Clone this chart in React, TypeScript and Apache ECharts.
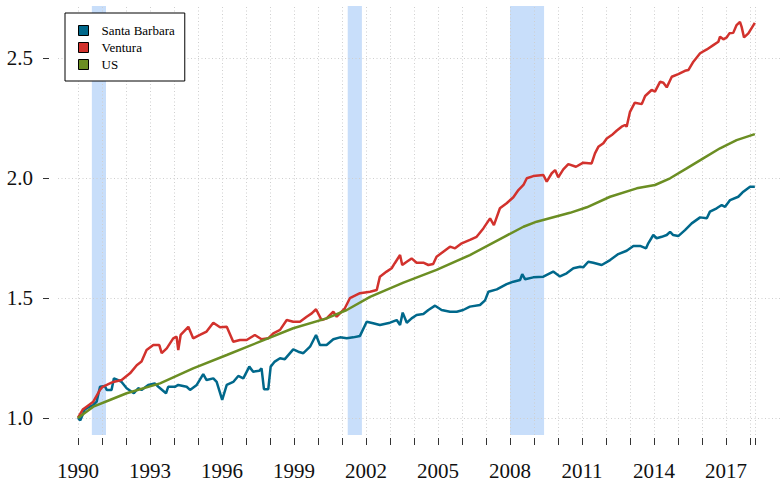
import React, { useEffect, useRef } from "react";
import * as echarts from "echarts";

const seriesNames = ["Santa Barbara", "Ventura", "US"];
const seriesColors = ["#00688B", "#D2322D", "#6B8E23"];

const santaBarbara: [number, number][] = [
  [1990.0, 1.0], [1990.1, 0.99], [1990.29, 1.036], [1990.45, 1.045], [1990.64, 1.054], [1990.78, 1.068],
  [1990.92, 1.13], [1991.12, 1.133], [1991.2, 1.117], [1991.4, 1.117], [1991.5, 1.165], [1991.68, 1.158],
  [1991.82, 1.15], [1992.03, 1.124], [1992.33, 1.103], [1992.51, 1.124], [1992.65, 1.117], [1992.93, 1.1375],
  [1993.2, 1.144], [1993.35, 1.13], [1993.67, 1.103], [1993.76, 1.13], [1994.04, 1.13], [1994.18, 1.1375],
  [1994.53, 1.13], [1994.67, 1.117], [1994.95, 1.1375], [1995.22, 1.183], [1995.36, 1.158], [1995.64, 1.165],
  [1995.78, 1.15], [1996.01, 1.075], [1996.2, 1.1375], [1996.47, 1.15], [1996.68, 1.175], [1996.89, 1.165],
  [1997.14, 1.214], [1997.3, 1.193], [1997.56, 1.197], [1997.65, 1.207], [1997.75, 1.12], [1997.93, 1.12],
  [1998.03, 1.214], [1998.2, 1.235], [1998.42, 1.249], [1998.62, 1.245], [1998.97, 1.286], [1999.18, 1.276],
  [1999.39, 1.27], [1999.67, 1.297], [1999.92, 1.346], [2000.08, 1.304], [2000.36, 1.304], [2000.64, 1.328],
  [2000.92, 1.336], [2001.2, 1.332], [2001.47, 1.336], [2001.75, 1.342], [2002.03, 1.401], [2002.3, 1.395],
  [2002.58, 1.3875], [2003.0, 1.397], [2003.28, 1.408], [2003.42, 1.3875], [2003.53, 1.439], [2003.7, 1.397],
  [2003.9, 1.415], [2004.11, 1.429], [2004.39, 1.433], [2004.6, 1.45], [2004.88, 1.468], [2005.15, 1.45],
  [2005.5, 1.443], [2005.78, 1.443], [2006.05, 1.45], [2006.33, 1.464], [2006.75, 1.471], [2006.96, 1.49],
  [2007.1, 1.526], [2007.45, 1.536], [2007.86, 1.558], [2008.14, 1.568], [2008.42, 1.575], [2008.51, 1.599],
  [2008.63, 1.578], [2008.97, 1.586], [2009.39, 1.589], [2009.8, 1.61], [2010.08, 1.59], [2010.36, 1.603],
  [2010.64, 1.624], [2010.92, 1.63], [2011.05, 1.628], [2011.26, 1.651], [2011.47, 1.647], [2011.82, 1.6375],
  [2012.17, 1.658], [2012.51, 1.683], [2012.86, 1.697], [2013.14, 1.717], [2013.42, 1.717], [2013.67, 1.707],
  [2013.76, 1.728], [2013.97, 1.7625], [2014.11, 1.749], [2014.32, 1.755], [2014.53, 1.7625], [2014.67, 1.776],
  [2014.8, 1.7625], [2015.01, 1.758], [2015.29, 1.783], [2015.57, 1.811], [2015.92, 1.836], [2016.2, 1.832],
  [2016.33, 1.86], [2016.61, 1.874], [2016.82, 1.8875], [2016.96, 1.88], [2017.17, 1.908], [2017.51, 1.922],
  [2017.72, 1.943], [2018.0, 1.964], [2018.2, 1.964],
];

const ventura: [number, number][] = [
  [1990.0, 1.0], [1990.2, 1.035], [1990.36, 1.047], [1990.64, 1.068], [1990.92, 1.117], [1991.03, 1.13],
  [1991.2, 1.1375], [1991.47, 1.15], [1991.82, 1.158], [1992.17, 1.186], [1992.45, 1.22], [1992.65, 1.235],
  [1992.86, 1.283], [1993.14, 1.304], [1993.39, 1.304], [1993.49, 1.27], [1993.7, 1.29], [1993.97, 1.332],
  [1994.11, 1.339], [1994.18, 1.283], [1994.28, 1.346], [1994.6, 1.38], [1994.8, 1.332], [1995.08, 1.346],
  [1995.36, 1.36], [1995.64, 1.397], [1995.92, 1.378], [1996.2, 1.38], [1996.47, 1.318], [1996.75, 1.325],
  [1997.03, 1.325], [1997.37, 1.346], [1997.65, 1.328], [1997.93, 1.332], [1998.14, 1.353], [1998.42, 1.367],
  [1998.7, 1.408], [1998.97, 1.401], [1999.25, 1.401], [1999.53, 1.422], [1999.74, 1.436], [1999.92, 1.453],
  [2000.15, 1.408], [2000.36, 1.415], [2000.64, 1.443], [2000.78, 1.422], [2001.12, 1.457], [2001.33, 1.499],
  [2001.75, 1.52], [2002.17, 1.526], [2002.45, 1.533], [2002.58, 1.589], [2002.86, 1.61], [2003.07, 1.624],
  [2003.2, 1.645], [2003.42, 1.679], [2003.51, 1.6375], [2003.7, 1.651], [2003.9, 1.665], [2004.11, 1.647],
  [2004.39, 1.647], [2004.6, 1.6375], [2004.8, 1.642], [2004.94, 1.672], [2005.22, 1.693], [2005.5, 1.714],
  [2005.71, 1.707], [2005.99, 1.728], [2006.33, 1.742], [2006.61, 1.755], [2006.89, 1.79], [2007.17, 1.832],
  [2007.33, 1.804], [2007.58, 1.874], [2007.86, 1.895], [2008.14, 1.92], [2008.35, 1.95], [2008.56, 1.971],
  [2008.7, 1.999], [2008.97, 2.008], [2009.39, 2.0125], [2009.53, 1.985], [2009.74, 2.02], [2009.88, 2.033],
  [2010.01, 2.003], [2010.22, 2.036], [2010.43, 2.058], [2010.75, 2.047], [2011.05, 2.064], [2011.4, 2.061],
  [2011.54, 2.103], [2011.68, 2.13], [2011.89, 2.145], [2012.03, 2.165], [2012.24, 2.179], [2012.44, 2.197],
  [2012.65, 2.214], [2012.79, 2.221], [2012.86, 2.214], [2013.0, 2.276], [2013.2, 2.314], [2013.49, 2.308],
  [2013.63, 2.342], [2013.9, 2.367], [2014.04, 2.36], [2014.25, 2.401], [2014.39, 2.397], [2014.53, 2.378],
  [2014.74, 2.422], [2015.01, 2.433], [2015.29, 2.447], [2015.43, 2.45], [2015.64, 2.485], [2015.92, 2.52],
  [2016.2, 2.536], [2016.47, 2.554], [2016.68, 2.568], [2016.75, 2.589], [2016.89, 2.578], [2017.03, 2.586],
  [2017.14, 2.603], [2017.3, 2.605], [2017.44, 2.6375], [2017.58, 2.651], [2017.65, 2.63], [2017.75, 2.586],
  [2017.93, 2.603], [2018.2, 2.647],
];

const us: [number, number][] = [
  [1990.0, 1.0], [1990.64, 1.047], [1991.33, 1.075], [1992.03, 1.103], [1993.42, 1.144], [1994.8, 1.207],
  [1996.2, 1.2625], [1997.58, 1.318], [1998.97, 1.374], [2000.36, 1.415], [2001.2, 1.45], [2002.17, 1.505],
  [2003.56, 1.564], [2004.94, 1.617], [2006.33, 1.679], [2007.72, 1.753], [2008.56, 1.797], [2009.11, 1.818],
  [2010.5, 1.855], [2011.2, 1.878], [2012.17, 1.922], [2013.28, 1.957], [2014.04, 1.971], [2014.67, 1.999],
  [2015.36, 2.04], [2016.05, 2.082], [2016.75, 2.124], [2017.44, 2.158], [2018.2, 2.183],
];

const recessions: [number, number][] = [
  [1990.58, 1991.17],
  [2001.24, 2001.83],
  [2008.0, 2009.42],
];

const xTickValues = [
  1990, 1991, 1992, 1993, 1994, 1995, 1996, 1997, 1998, 1999, 2000, 2001, 2002, 2003, 2004,
  2005, 2006, 2007, 2008, 2009, 2010, 2011, 2012, 2013, 2014, 2015, 2016, 2017, 2018, 2018.2,
];
const xLabelValues = [1990, 1993, 1996, 1999, 2002, 2005, 2008, 2011, 2014, 2017];
const yTickValues = [1.0, 1.5, 2.0, 2.5];

const FONT = "'Liberation Serif', 'DejaVu Serif', serif";

export default function App() {
  const ref = useRef<HTMLDivElement>(null);
  useEffect(() => {
    if (!ref.current) return;
    const chart = echarts.init(ref.current, undefined, { renderer: "svg" });
    const gridLine = { type: [1, 2.5], color: "#cfcfcf", width: 1 };
    const option: any = {
      animation: false,
      backgroundColor: "#ffffff",
      grid: { left: 58, right: 0, top: 6, bottom: 46, containLabel: false },
      xAxis: {
        type: "value",
        min: 1989.17,
        max: 2019.29,
        offset: 3,
        axisLine: { show: false, onZero: false },
        axisTick: { show: true, length: 7, lineStyle: { color: "#333" }, customValues: xTickValues },
        axisLabel: {
          customValues: xLabelValues,
          margin: 22,
          fontFamily: FONT,
          fontSize: 21,
          color: "#111",
          formatter: (v: number) => String(Math.round(v)),
        },
        splitLine: { show: false },
      },
      yAxis: {
        type: "value",
        min: 0.929,
        max: 2.717,
        offset: 9,
        axisLine: { show: false, onZero: false },
        axisTick: { show: true, length: 6, lineStyle: { color: "#333" }, customValues: yTickValues },
        axisLabel: {
          customValues: yTickValues,
          margin: 16,
          fontFamily: FONT,
          fontSize: 21,
          color: "#111",
          formatter: (v: number) => v.toFixed(1),
        },
        splitLine: { show: false },
      },
      legend: {
        data: seriesNames,
        orient: "vertical",
        left: 65,
        top: 13,
        padding: [11, 10, 10, 13],
        itemWidth: 10,
        itemHeight: 10,
        itemGap: 4,
        icon: "rect",
        itemStyle: { borderColor: "#000", borderWidth: 1 },
        textStyle: { fontFamily: FONT, fontSize: 13, color: "#000", lineHeight: 13, padding: [0, 0, 0, 8] },
        borderColor: "#000",
        borderWidth: 1,
        backgroundColor: "#fff",
        selectedMode: false,
        z: 20,
      },
      series: [
        {
          name: "bands",
          type: "line",
          data: [[1990, 1]],
          showSymbol: false,
          lineStyle: { opacity: 0 },
          silent: true,
          z: 1,
          markArea: {
            silent: true,
            z: 1,
            itemStyle: { color: "#c8defa", opacity: 1 },
            data: recessions.map(([a, b]) => [{ xAxis: a }, { xAxis: b }]),
          },
        },
        {
          name: "grid",
          type: "line",
          data: [[1990, 1]],
          showSymbol: false,
          lineStyle: { opacity: 0 },
          silent: true,
          z: 2,
          markLine: {
            silent: true,
            z: 2,
            symbol: ["none", "none"],
            label: { show: false },
            lineStyle: gridLine,
            data: [
              ...yTickValues.map((v) => ({ yAxis: v })),
              ...xTickValues.map((v) => ({ xAxis: v })),
            ],
          },
        },
        ...[santaBarbara, ventura, us].map((d, i) => ({
          name: seriesNames[i],
          type: "line",
          data: d,
          color: seriesColors[i],
          showSymbol: false,
          symbol: "none",
          z: 10,
          lineStyle: { width: 2.5, color: seriesColors[i] },
          itemStyle: { color: seriesColors[i] },
        })),
      ],
    };
    chart.setOption(option);
    return () => chart.dispose();
  }, []);
  return (
    <div
      ref={ref}
      style={{ position: "fixed", left: 0, top: 0, width: 781, height: 481, background: "#fff" }}
    />
  );
}
